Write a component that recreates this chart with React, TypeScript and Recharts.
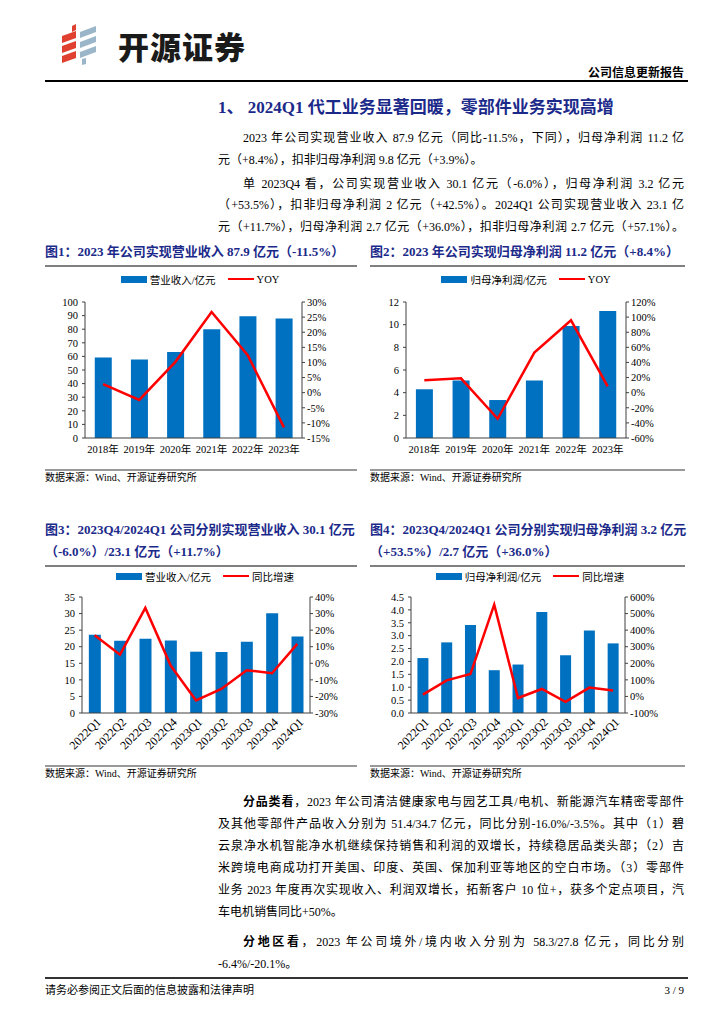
import React from 'react';
import { ComposedChart, Bar, Line, XAxis, YAxis } from 'recharts';

// annual data (fig 1, fig 2)
const years = ['2018年', '2019年', '2020年', '2021年', '2022年', '2023年'];
const revenue = [59.2, 57.7, 63.3, 79.9, 89.6, 87.9];
const revenueYoy = [2.8, -2.4, 10.2, 26.7, 12.4, -11.5];
const netProfit = [4.3, 5.08, 3.35, 5.08, 9.88, 11.2];
const netProfitYoy = [16.4, 19.0, -34.5, 53.0, 95.8, 8.4];

// quarterly data (fig 3, fig 4)
const quarters = ['2022Q1', '2022Q2', '2022Q3', '2022Q4', '2023Q1', '2023Q2', '2023Q3', '2023Q4', '2024Q1'];
const qRevenue = [23.6, 21.8, 22.4, 21.9, 18.5, 18.4, 21.5, 30.1, 23.1];
const qRevenueYoy = [16.9, 5.2, 33.4, -1.4, -22.4, -15.5, -4.2, -6.0, 11.7];
const qProfit = [2.13, 2.74, 3.41, 1.66, 1.88, 3.92, 2.24, 3.2, 2.7];
const qProfitYoy = [10.7, 97, 135, 554, -9.5, 45, -32, 53.5, 36.0];

// axis ticks
const revTicks = [0, 10, 20, 30, 40, 50, 60, 70, 80, 90, 100];
const revYoyTicks = [-15, -10, -5, 0, 5, 10, 15, 20, 25, 30];
const profitTicks = [0, 2, 4, 6, 8, 10, 12];
const profitYoyTicks = [-60, -40, -20, 0, 20, 40, 60, 80, 100, 120];
const qRevTicks = [0, 5, 10, 15, 20, 25, 30, 35];
const qRevYoyTicks = [-30, -20, -10, 0, 10, 20, 30, 40];
const qProfitTicks = [0, 0.5, 1, 1.5, 2, 2.5, 3, 3.5, 4, 4.5];
const qProfitYoyTicks = [-100, 0, 100, 200, 300, 400, 500, 600];

const SERIF = "'Liberation Serif', 'Times New Roman', 'Noto Sans CJK SC', serif";
const NAVY = '#1b2a8a';
const BLUE = '#0070C0';
const RED = '#FF0000';
const AXIS = '#404040';

const pct = (v: number) => `${v}%`;

const RotTick = (props: any) => {
  const { x, y, payload } = props;
  return (
    <g transform={`translate(${x + 4},${y + 7}) rotate(-45)`}>
      <text x={0} y={0} dy="0.35em" textAnchor="end" fontSize={12} fill="#000" fontFamily={SERIF}>
        {payload.value}
      </text>
    </g>
  );
};

type ComboProps = {
  left: number;
  top: number;
  height: number;
  margin: { top: number; right: number; bottom: number; left: number };
  leftW: number;
  rightW: number;
  cats: string[];
  bars: number[];
  yoy: number[];
  barTicks: number[];
  yoyTicks: number[];
  barFmt?: (v: number) => string;
  rotate?: boolean;
};

const Combo = (p: ComboProps) => {
  const data = p.cats.map((name, i) => ({ name, bar: p.bars[i], yoy: p.yoy[i] }));
  const tickStyle = { fontSize: 10.5, fill: '#000', fontFamily: SERIF };
  return (
    <div style={{ position: 'absolute', left: p.left, top: p.top }}>
      <ComposedChart width={320} height={p.height} data={data} margin={p.margin} barCategoryGap="27%">
        {p.rotate ? (
          <XAxis dataKey="name" interval={0} height={50} tickLine={false} tickSize={0} tickMargin={0}
            axisLine={{ stroke: AXIS }} tick={<RotTick />} />
        ) : (
          <XAxis dataKey="name" interval={0} height={25} tickLine={false} tickSize={0} tickMargin={8}
            axisLine={{ stroke: AXIS }} tick={tickStyle} />
        )}
        <YAxis yAxisId="left" orientation="left" width={p.leftW} domain={[p.barTicks[0], p.barTicks[p.barTicks.length - 1]]}
          ticks={p.barTicks} interval={0} tickFormatter={p.barFmt} axisLine={{ stroke: AXIS }}
          tickLine={{ stroke: AXIS }} tickSize={3} tickMargin={4} tick={tickStyle} />
        <YAxis yAxisId="right" orientation="right" width={p.rightW} domain={[p.yoyTicks[0], p.yoyTicks[p.yoyTicks.length - 1]]}
          ticks={p.yoyTicks} interval={0} tickFormatter={pct} axisLine={{ stroke: AXIS }}
          tickLine={{ stroke: AXIS }} tickSize={3} tickMargin={2} tick={tickStyle} />
        <Bar yAxisId="left" dataKey="bar" fill={BLUE} isAnimationActive={false} />
        <Line yAxisId="right" dataKey="yoy" type="linear" stroke={RED} strokeWidth={2.5} dot={false} isAnimationActive={false} />
      </ComposedChart>
    </div>
  );
};

const LegendRow = ({ cx, y, barLabel, lineLabel }: { cx: number; y: number; barLabel: string; lineLabel: string }) => (
  <div style={{ position: 'absolute', left: cx - 160, top: y - 8, width: 320, height: 16, display: 'flex',
    justifyContent: 'center', alignItems: 'center', fontSize: 10.5, fontFamily: SERIF, color: '#000' }}>
    <span style={{ display: 'inline-block', width: 26, height: 7, background: BLUE, marginRight: 3 }} />
    <span>{barLabel}</span>
    <span style={{ display: 'inline-block', width: 26, height: 2.5, background: RED, marginLeft: 12, marginRight: 3 }} />
    <span>{lineLabel}</span>
  </div>
);

const TextLine = ({ x, y, w, justify = true, children }: { x: number; y: number; w: number; justify?: boolean; children: React.ReactNode }) => (
  <div style={{ position: 'absolute', left: x, top: y - 11, width: w, height: 22, lineHeight: '22px', fontSize: 12,
    fontFamily: SERIF, color: '#000', textAlign: justify ? 'justify' : 'left',
    textAlignLast: justify ? 'justify' : 'left' } as React.CSSProperties}>
    {children}
  </div>
);

const Rule = ({ x, y, w, color, h }: { x: number; y: number; w: number; color: string; h: number }) => (
  <div style={{ position: 'absolute', left: x, top: y, width: w, height: h, background: color }} />
);

const Title = ({ x, y, children }: { x: number; y: number; children: React.ReactNode }) => (
  <div style={{ position: 'absolute', left: x, top: y - 10, height: 20, lineHeight: '20px', fontSize: 13,
    fontWeight: 'bold', color: NAVY, fontFamily: SERIF, whiteSpace: 'nowrap' }}>{children}</div>
);

const Source = ({ x, y }: { x: number; y: number }) => (
  <div style={{ position: 'absolute', left: x, top: y - 8, fontSize: 10, lineHeight: '16px', fontFamily: SERIF, color: '#000' }}>
    数据来源：Wind、开源证券研究所
  </div>
);

const Logo = () => (
  <svg style={{ position: 'absolute', left: 58, top: 24 }} width={44} height={42}>
    <polygon points="14,2 18,0 18,6 14,8" fill="#e0402f" />
    <polygon points="4,12 18,7 18,14 4,19" fill="#e0402f" />
    <polygon points="4,22 18,17 18,24 4,29" fill="#e0402f" />
    <polygon points="4,32 18,27 18,34 4,39" fill="#e0402f" />
    <polygon points="22,8 38,2 38,8 22,14" fill="#9bb6c8" />
    <polygon points="22,18 38,12 38,18 22,24" fill="#9bb6c8" />
    <polygon points="22,28 38,22 38,28 22,34" fill="#9bb6c8" />
    <polygon points="24,35 28,34 28,40 24,41" fill="#9bb6c8" />
  </svg>
);

const B = ({ children }: { children: React.ReactNode }) => <b>{children}</b>;

export default function App() {
  const L = 218;
  const W = 466;
  return (
    <div lang="zh-CN" style={{ position: 'absolute', left: 0, top: 0, width: 724, height: 1024, background: '#fff', overflow: 'hidden', fontFamily: SERIF }}>
      <Logo />
      <div style={{ position: 'absolute', left: 118, top: 26, fontSize: 31, lineHeight: '40px', fontWeight: 900,
        fontFamily: "'Noto Sans CJK SC', sans-serif", color: '#1a1a1a', letterSpacing: 1 }}>开源证券</div>
      <div style={{ position: 'absolute', right: 40, top: 65, fontSize: 12, lineHeight: '16px', fontWeight: 'bold', color: '#000' }}>公司信息更新报告</div>
      <Rule x={45} y={80} w={643} h={1.5} color="#000" />

      <div style={{ position: 'absolute', left: 218, top: 96, fontSize: 17, lineHeight: '24px', fontWeight: 'bold', color: NAVY, whiteSpace: 'nowrap' }}>
        1、 2024Q1 代工业务显著回暖，零部件业务实现高增
      </div>

      <TextLine x={L + 25} y={138} w={W - 25}>2023 年公司实现营业收入 87.9 亿元（同比-11.5%，下同），归母净利润 11.2 亿</TextLine>
      <TextLine x={L} y={160} w={W} justify={false}>元（+8.4%），扣非归母净利润 9.8 亿元（+3.9%）。</TextLine>

      <TextLine x={L + 25} y={184} w={W - 25}>单 2023Q4 看，公司实现营业收入 30.1 亿元（-6.0%），归母净利润 3.2 亿元</TextLine>
      <TextLine x={L} y={205} w={W}>（+53.5%），扣非归母净利润 2 亿元（+42.5%）。2024Q1 公司实现营业收入 23.1 亿</TextLine>
      <TextLine x={L} y={227} w={W}>元（+11.7%），归母净利润 2.7 亿元（+36.0%），扣非归母净利润 2.7 亿元（+57.1%）。</TextLine>

      <Title x={45} y={252}>图1：2023 年公司实现营业收入 87.9 亿元（-11.5%）</Title>
      <Title x={370} y={252}>图2：2023 年公司实现归母净利润 11.2 亿元（+8.4%）</Title>
      <Rule x={45} y={265} w={312} h={1.5} color="#808080" />
      <Rule x={370} y={265} w={315} h={1.5} color="#808080" />

      <LegendRow cx={200} y={279} barLabel="营业收入/亿元" lineLabel="YOY" />
      <LegendRow cx={526} y={279} barLabel="归母净利润/亿元" lineLabel="YOY" />

      <Combo left={40} top={270} height={200} margin={{ top: 32, right: 18, bottom: 7, left: 15 }} leftW={30} rightW={40}
        cats={years} bars={revenue} yoy={revenueYoy} barTicks={revTicks} yoyTicks={revYoyTicks} />
      <Combo left={365} top={270} height={200} margin={{ top: 32, right: 14, bottom: 7, left: 13 }} leftW={28} rightW={45}
        cats={years} bars={netProfit} yoy={netProfitYoy} barTicks={profitTicks} yoyTicks={profitYoyTicks} />

      <Rule x={45} y={469} w={312} h={1.5} color="#999" />
      <Rule x={370} y={469} w={315} h={1.5} color="#999" />
      <Source x={45} y={478} />
      <Source x={370} y={478} />

      <Title x={45} y={530}>图3：2023Q4/2024Q1 公司分别实现营业收入 30.1 亿元</Title>
      <Title x={45} y={552}>（-6.0%）/23.1 亿元（+11.7%）</Title>
      <Title x={370} y={530}>图4：2023Q4/2024Q1 公司分别实现归母净利润 3.2 亿元</Title>
      <Title x={370} y={552}>（+53.5%）/2.7 亿元（+36.0%）</Title>
      <Rule x={45} y={565} w={312} h={1.5} color="#808080" />
      <Rule x={370} y={565} w={315} h={1.5} color="#808080" />

      <LegendRow cx={205} y={576} barLabel="营业收入/亿元" lineLabel="同比增速" />
      <LegendRow cx={530} y={576} barLabel="归母净利润/亿元" lineLabel="同比增速" />

      <Combo left={40} top={585} height={180} margin={{ top: 12, right: 8, bottom: 2, left: 12 }} leftW={30} rightW={42}
        cats={quarters} bars={qRevenue} yoy={qRevenueYoy} barTicks={qRevTicks} yoyTicks={qRevYoyTicks} rotate />
      <Combo left={365} top={585} height={180} margin={{ top: 12, right: 10, bottom: 2, left: 12 }} leftW={34} rightW={50}
        cats={quarters} bars={qProfit} yoy={qProfitYoy} barTicks={qProfitTicks} yoyTicks={qProfitYoyTicks}
        barFmt={(v: number) => v.toFixed(1)} rotate />

      <Rule x={45} y={765} w={312} h={1.5} color="#999" />
      <Rule x={370} y={765} w={315} h={1.5} color="#999" />
      <Source x={45} y={774} />
      <Source x={370} y={774} />

      <TextLine x={L + 25} y={802} w={W - 25}><B>分品类看</B>，2023 年公司清洁健康家电与园艺工具/电机、新能源汽车精密零部件</TextLine>
      <TextLine x={L} y={824} w={W}>及其他零部件产品收入分别为 51.4/34.7 亿元，同比分别-16.0%/-3.5%。其中（1）碧</TextLine>
      <TextLine x={L} y={846} w={W}>云泉净水机智能净水机继续保持销售和利润的双增长，持续稳居品类头部；（2）吉</TextLine>
      <TextLine x={L} y={868} w={W}>米跨境电商成功打开美国、印度、英国、保加利亚等地区的空白市场。（3）零部件</TextLine>
      <TextLine x={L} y={890} w={W}>业务 2023 年度再次实现收入、利润双增长，拓新客户 10 位+，获多个定点项目，汽</TextLine>
      <TextLine x={L} y={912} w={W} justify={false}>车电机销售同比+50%。</TextLine>

      <TextLine x={L + 25} y={942} w={W - 25}><B>分地区看</B>，2023 年公司境外/境内收入分别为 58.3/27.8 亿元，同比分别</TextLine>
      <TextLine x={L} y={964} w={W} justify={false}>-6.4%/-20.1%。</TextLine>

      <Rule x={45} y={977} w={643} h={1.5} color="#333" />
      <div style={{ position: 'absolute', left: 45, top: 982, fontSize: 11, lineHeight: '16px', color: '#000' }}>请务必参阅正文后面的信息披露和法律声明</div>
      <div style={{ position: 'absolute', right: 40, top: 982, fontSize: 11, lineHeight: '16px', color: '#000' }}>3 / 9</div>
    </div>
  );
}
